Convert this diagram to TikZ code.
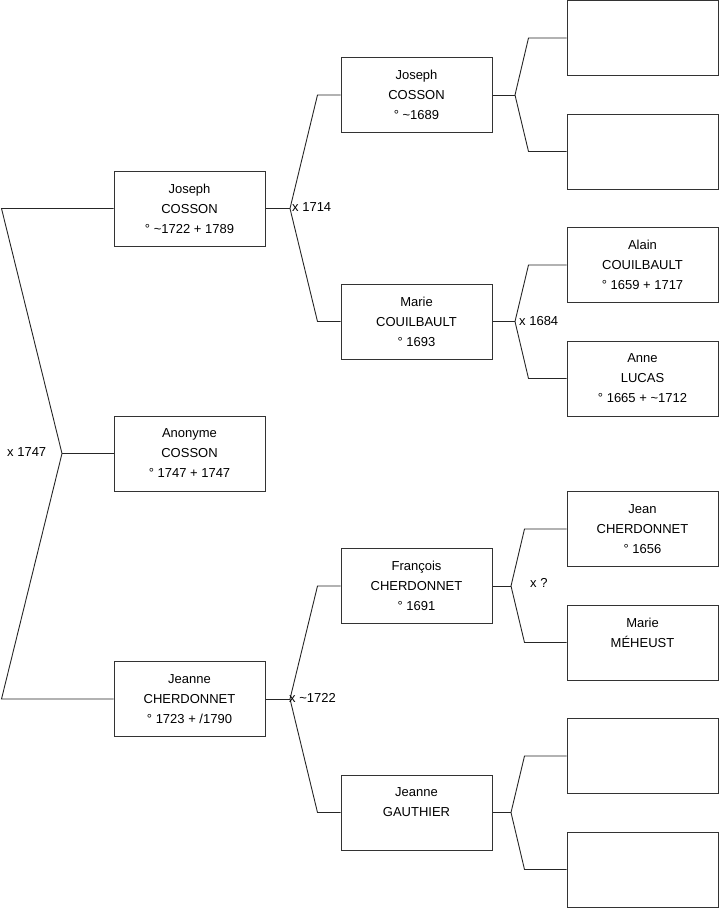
\documentclass[tikz,border=0pt]{standalone}
\usepackage{fontspec}
\setmainfont{Liberation Sans}
\begin{document}
\begin{tikzpicture}[x=1pt,y=-1pt,
  person/.style={draw=black!80, line width=1pt, minimum width=151pt, minimum height=75pt,
    inner sep=0pt, align=center, font=\fontsize{13}{20}\selectfont},
  link/.style={draw=black!85, line width=0.9pt},
  lab/.style={anchor=west, inner sep=0pt, font=\fontsize{13}{14}\selectfont}]
\useasboundingbox (0,0) rectangle (719,908);
% column 1
\node[person] (jos) at (189.5,208.5) {Joseph\\COSSON\\° \textasciitilde1722 + 1789};
\node[person] (anon) at (189.5,453.5) {Anonyme\\COSSON\\° 1747 + 1747};
\node[person] (jean) at (189.5,699) {Jeanne\\CHERDONNET\\° 1723 + /1790};
% column 2
\node[person] (jp) at (416.5,95) {Joseph\\COSSON\\° \textasciitilde1689};
\node[person] (mc) at (416.5,321.5) {Marie\\COUILBAULT\\° 1693};
\node[person] (fc) at (416.5,586) {François\\CHERDONNET\\° 1691};
\node[person] (jg) at (416.5,812.5) {Jeanne\\GAUTHIER\\\mbox{}};
% column 3
\node[person] (b1) at (642.5,38) {};
\node[person] (b2) at (642.5,151.5) {};
\node[person] (ac) at (642.5,265) {Alain\\COUILBAULT\\° 1659 + 1717};
\node[person] (al) at (642.5,378.5) {Anne\\LUCAS\\° 1665 + \textasciitilde1712};
\node[person] (jc) at (642.5,529) {Jean\\CHERDONNET\\° 1656};
\node[person] (mm) at (642.5,642.5) {Marie\\MÉHEUST\\\mbox{}};
\node[person] (b7) at (642.5,756) {};
\node[person] (b8) at (642.5,869.5) {};
% junctions
\coordinate (j0) at (62,453.5);
\coordinate (j1) at (290,208.5);
\coordinate (j2) at (290,699);
\coordinate (j3) at (515,95);
\coordinate (j4) at (515,321.5);
\coordinate (j5) at (511,586);
\coordinate (j6) at (511,812.5);
% connectors
\draw[link] (anon.west) -- (j0);
\draw[link] (jos.west) -- ++(-112,0) -- (j0);
\draw[link] (jean.west) -- ++(-112,0) -- (j0);
\draw[link] (jos.east) -- (j1);
\draw[link] (jp.west) -- ++(-23,0) -- (j1);
\draw[link] (mc.west) -- ++(-23,0) -- (j1);
\draw[link] (jean.east) -- (j2);
\draw[link] (fc.west) -- ++(-23,0) -- (j2);
\draw[link] (jg.west) -- ++(-23,0) -- (j2);
\draw[link] (jp.east) -- (j3);
\draw[link] (b1.west) -- ++(-38,0) -- (j3);
\draw[link] (b2.west) -- ++(-38,0) -- (j3);
\draw[link] (mc.east) -- (j4);
\draw[link] (ac.west) -- ++(-38,0) -- (j4);
\draw[link] (al.west) -- ++(-38,0) -- (j4);
\draw[link] (fc.east) -- (j5);
\draw[link] (jc.west) -- ++(-42,0) -- (j5);
\draw[link] (mm.west) -- ++(-42,0) -- (j5);
\draw[link] (jg.east) -- (j6);
\draw[link] (b7.west) -- ++(-42,0) -- (j6);
\draw[link] (b8.west) -- ++(-42,0) -- (j6);
% marriage labels
\node[lab] (m0) at (7,452) {x 1747};
\node[lab] (m1) at (292,207.5) {x 1714};
\node[lab] (m2) at (289,698) {x \textasciitilde1722};
\node[lab] (m3) at (519,321.5) {x 1684};
\node[lab] (m4) at (530,583) {x ?};
\end{tikzpicture}
\end{document}
